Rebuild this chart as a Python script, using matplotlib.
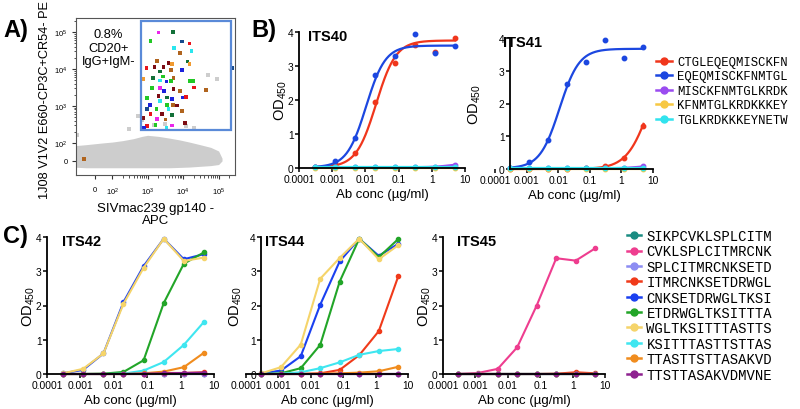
import matplotlib
matplotlib.use("Agg")
import matplotlib.pyplot as plt
import numpy as np
from matplotlib.patches import Rectangle
from matplotlib.lines import Line2D
from matplotlib.ticker import SymmetricalLogLocator, NullFormatter

plt.rcParams['font.family'] = ['Liberation Sans', 'DejaVu Sans']
plt.rcParams['mathtext.default'] = 'regular'

W, H = 800, 410

# --------------------------------------------------------------------------- #
# Data
# --------------------------------------------------------------------------- #
conc = [0.0003, 0.0012, 0.0049, 0.0195, 0.078, 0.3125, 1.25, 5.0]

# panel A : gated cells (log10 of the fluorescence values) and their colours
a_logx = [3.31, 3.71, 3.08, 3.96, 4.18, 3.75, 3.92, 4.24, 3.27, 3.59, 3.69, 4.12,
          4.18, 2.97, 3.19, 3.45, 3.66, 3.96, 3.34, 3.44, 3.73, 2.88, 3.16, 3.34,
          3.53, 3.66, 4.19, 4.27, 3.13, 3.34, 3.47, 3.73, 3.92, 4.31, 4.64, 2.99,
          3.31, 3.55, 3.69, 3.99, 4.08, 3.06, 3.34, 3.55, 3.71, 3.82, 2.99, 3.25,
          3.59, 3.96, 3.08, 3.41, 3.69, 3.27, 3.50, 2.88, 4.06, 3.69, 2.99, 2.90,
          3.53, 3.22, 5.37]
a_logy = [4.99, 5.01, 4.75, 4.74, 4.69, 4.56, 4.43, 4.48, 4.21, 4.16, 4.14, 4.20,
          4.14, 4.02, 4.05, 4.05, 3.98, 3.98, 3.93, 3.80, 3.75, 3.73, 3.75, 3.69,
          3.66, 3.68, 3.68, 3.67, 3.48, 3.48, 3.41, 3.46, 3.41, 3.50, 3.44, 3.21,
          3.26, 3.23, 3.19, 3.23, 3.25, 3.03, 3.14, 3.03, 3.03, 3.01, 2.92, 2.92,
          2.92, 2.87, 2.78, 2.78, 2.76, 2.65, 2.63, 2.67, 2.54, 2.47, 2.45, 2.42,
          2.42, 2.49, 4.02]
a_cell = ['m', 'd', 'g', 'k', 'r', 'c', 'n', 'c', 'n', 'w', 'o', 'd',
          'o', 'r', 'w', 'w', 'n', 'b', 'd', 'g', 'n', 'o', 'd', 'c',
          'b', 'g', 'g', 'g', 'g', 'm', 'b', 'w', 'n', 'r', 'n', 'g',
          'w', 'd', 'b', 'b', 'r', 'b', 'c', 'g', 'n', 'w', 'k', 'g',
          'c', 'n', 'r', 'w', 'd', 'm', 'n', 'w', 'w', 'm', 'r', 'b',
          'c', 'g', 'k']
a_palette = {'r': '#e8141c', 'g': '#22c825', 'b': '#1c22dc', 'm': '#ea26ea',
             'c': '#2ae6ee', 'o': '#f09a30', 'n': '#b0641e', 'd': '#127038',
             'k': '#174a8c', 'w': '#7c0c14'}

# panel A : bulk (ungated) population outline and stray events
cloud_x = [-110, -50, 0, 50, 100, 200, 400, 700, 1000, 2000, 4000, 8000,
           15000, 30000, 60000, 100000, 125000]
cloud_top = [85, 90, 95, 100, 105, 115, 130, 150, 160, 150, 135, 120,
             105, 90, 75, 55, 15]
cloud_bot = [-35, -38, -38, -38, -38, -38, -38, -38, -38, -38, -38, -36,
             -34, -30, -26, -20, 0]
stray_x = [550, 51000, 90000, 1500, 300, 20000, 700, 3000, -100, 12000]
stray_y = [540, 6900, 5500, 300, 230, 260, 420, 330, 160, 280]
odd_x, odd_y = [-60], [10]
gate = [660, 225, 2.2e5, 2.0e5]  # x0, y0, x1, y1

# panel B : ELISA, peptides and their colours
b_peptides = ['CTGLEQEQMISCKFN', 'EQEQMISCKFNMTGL', 'MISCKFNMTGLKRDK',
              'KFNMTGLKRDKKKEY', 'TGLKRDKKKEYNETW']
b_colors = ['#f0361c', '#1c47e0', '#9a4cf0', '#f7c843', '#31e3ee']

its40 = [[0.02, 0.12, 0.43, 1.93, 3.10, 3.62, 3.42, 3.82],
         [0.03, 0.22, 0.87, 2.75, 3.28, 3.93, 3.38, 3.58],
         [0.02, 0.02, 0.02, 0.02, 0.02, 0.03, 0.04, 0.10],
         [0.01, 0.01, 0.01, 0.01, 0.01, 0.01, 0.01, 0.01],
         [0.02, 0.02, 0.02, 0.02, 0.02, 0.02, 0.02, 0.02]]
its41 = [[0.00, 0.00, 0.01, 0.01, 0.02, 0.08, 0.35, 1.32],
         [0.03, 0.20, 0.90, 2.60, 3.28, 3.93, 3.40, 3.73],
         [0.02, 0.02, 0.02, 0.02, 0.02, 0.03, 0.04, 0.08],
         [0.01, 0.01, 0.01, 0.01, 0.01, 0.01, 0.01, 0.01],
         [0.02, 0.02, 0.02, 0.02, 0.02, 0.02, 0.02, 0.02]]

# 4-parameter logistic fits: bottom, top, EC50, hill
fit40_bottom = [0.02, 0.02, 0.02, 0.01, 0.02]
fit40_top = [3.75, 3.60, 0.15, 0.01, 0.02]
fit40_ec50 = [0.021, 0.0105, 4.0, 1.0, 1.0]
fit40_hill = [1.45, 1.5, 1.5, 1.0, 1.0]
fit41_bottom = [0.0, 0.02, 0.02, 0.01, 0.02]
fit41_top = [3.8, 3.67, 0.12, 0.01, 0.02]
fit41_ec50 = [8.0, 0.011, 4.0, 1.0, 1.0]
fit41_hill = [1.2, 1.4, 1.5, 1.0, 1.0]

# panel C : ELISA, peptides and their colours
c_peptides = ['SIKPCVKLSPLCITM', 'CVKLSPLCITMRCNK', 'SPLCITMRCNKSETD',
              'ITMRCNKSETDRWGL', 'CNKSETDRWGLTKSI', 'ETDRWGLTKSITTTA',
              'WGLTKSITTTASTTS', 'KSITTTASTTSTTAS', 'TTASTTSTTASAKVD',
              'TTSTTASAKVDMVNE']
c_colors = ['#1a8c82', '#ee3d8f', '#8c8cf2', '#f03a1a', '#1a40f0',
            '#22a528', '#f5d46a', '#3fe6f0', '#f08c1e', '#8e2290']

zero = [0, 0, 0, 0, 0, 0, 0, 0]
its42 = [zero, zero, zero,
         [0, 0, 0, 0, 0.0, 0.03, 0.03, 0.05],
         [0.02, 0.12, 0.60, 2.10, 3.15, 3.95, 3.35, 3.50],
         [0.0, 0.0, 0.01, 0.06, 0.40, 2.07, 3.22, 3.55],
         [0.02, 0.15, 0.60, 2.05, 3.10, 3.95, 3.30, 3.40],
         [0, 0, 0, 0.01, 0.10, 0.35, 0.85, 1.52],
         [0, 0, 0, 0, 0.02, 0.07, 0.20, 0.62],
         [0, 0, 0, 0, 0.01, 0.02, 0.03, 0.04]]
its44 = [zero, zero, zero,
         [0, 0, 0, 0.02, 0.12, 0.55, 1.25, 2.85],
         [0.02, 0.10, 0.52, 2.02, 3.29, 3.95, 3.45, 3.80],
         [0.0, 0.02, 0.17, 0.85, 2.70, 3.95, 3.41, 3.94],
         [0.02, 0.20, 0.86, 2.78, 3.39, 3.95, 3.35, 3.76],
         [0, 0.01, 0.05, 0.17, 0.34, 0.56, 0.67, 0.73],
         [0, 0, 0, 0.01, 0.02, 0.04, 0.08, 0.21],
         [0.01, 0.01, 0.01, 0.01, 0.01, 0.01, 0.01, 0.01]]
its45 = [zero,
         [0.0, 0.03, 0.15, 0.78, 2.00, 3.38, 3.31, 3.67],
         zero,
         [0, 0, 0, 0, 0, 0.01, 0.05, 0.02],
         [0.01, 0.01, 0.01, 0.01, 0.01, 0.01, 0.01, 0.01],
         zero, zero, zero, zero, zero]


# --------------------------------------------------------------------------- #
def box(l, t, r, b):
    return [l / W, 1 - b / H, (r - l) / W, (b - t) / H]


def four_pl(x, bottom, top, ec50, hill):
    return bottom + (top - bottom) / (1 + (ec50 / x) ** hill)


def elisa_axes(ax, title, title_dx, label_dx, spine_at=None, trim_bottom=False):
    ax.set_xscale('log')
    ax.set_xlim(0.0001, 10)
    ax.set_ylim(0, 4)
    ax.set_xticks([0.0001, 0.001, 0.01, 0.1, 1, 10])
    ax.set_xticklabels(['0.0001', '0.001', '0.01', '0.1', '1', '10'])
    ax.xaxis.set_minor_locator(plt.NullLocator())
    ax.set_yticks([0, 1, 2, 3, 4])
    for s in ('top', 'right'):
        ax.spines[s].set_visible(False)
    for s in ('left', 'bottom'):
        ax.spines[s].set_linewidth(1.3)
    if spine_at is not None:
        ax.spines['left'].set_position(('data', spine_at))
        if trim_bottom:
            ax.spines['bottom'].set_bounds(spine_at, 10)
    ax.tick_params(length=3, width=1.1, labelsize=7.4, pad=1)
    ax.set_xlabel('Ab conc (µg/ml)', fontsize=9.5, labelpad=3)
    ax.set_ylabel('OD$_{450}$', fontsize=10.5)
    bb = ax.get_position()
    ax.yaxis.set_label_coords(label_dx / (bb.width * W), 0.5)
    ax.text(bb.x0 + title_dx / W, bb.y1 - 4 / H, title, transform=fig.transFigure,
            fontsize=10.5, fontweight='bold', va='center', ha='left', zorder=6)
    ax.patch.set_alpha(0)


fig = plt.figure(figsize=(W / 100, H / 100), dpi=100)

# --------------------------------------------------------------------------- #
# A) flow cytometry
# --------------------------------------------------------------------------- #
axA = fig.add_axes(box(76, 19, 235, 176))
axA.set_xscale('symlog', linthresh=100, linscale=0.44)
axA.set_yscale('symlog', linthresh=100, linscale=0.44)
axA.set_xlim(-110, 2.9e5)
axA.set_ylim(-78, 2.4e5)
axA.fill_between(cloud_x, cloud_bot, cloud_top, color='#cdcdcd', lw=0)
axA.scatter(stray_x, stray_y, s=5, marker='s', color='#cdcdcd', lw=0)
axA.scatter(odd_x, odd_y, s=7, marker='s', color='#b0641e', lw=0)
axA.scatter(10 ** np.array(a_logx), 10 ** np.array(a_logy), s=7, marker='s',
            c=[a_palette[k] for k in a_cell], lw=0, zorder=3)
axA.add_patch(Rectangle((gate[0], gate[1]), gate[2] - gate[0], gate[3] - gate[1],
                        fill=False, ec='#5a8ad8', lw=1.6, zorder=4))
decades = ['0', '10$^2$', '10$^3$', '10$^4$', '10$^5$']
axA.set_xticks([0, 1e2, 1e3, 1e4, 1e5])
axA.set_xticklabels(decades)
axA.set_yticks([0, 1e2, 1e3, 1e4, 1e5])
axA.set_yticklabels(decades)
for axis in (axA.xaxis, axA.yaxis):
    axis.set_minor_locator(SymmetricalLogLocator(base=10, linthresh=100,
                                                 subs=np.arange(2, 10)))
    axis.set_minor_formatter(NullFormatter())
axA.tick_params(labelsize=5.5, length=3, width=0.8, color='#333333')
axA.tick_params(axis='x', pad=5)
axA.tick_params(axis='y', pad=3)
axA.tick_params(which='minor', length=1.8, width=0.6, color='#333333')
for s in axA.spines.values():
    s.set_linewidth(0.8)
    s.set_color('#555555')
axA.text(0.205, 0.935, '0.8%\nCD20+\nIgG+IgM-', transform=axA.transAxes,
         ha='center', va='top', fontsize=9.3, linespacing=1.15)
axA.set_xlabel('SIVmac239 gp140 -\nAPC', fontsize=9.5, labelpad=3,
               linespacing=1.1)
fig.text(45 / W, 1 - 100 / H, '1J08 V1V2 E660-CP3C+CR54- PE', rotation=90,
         ha='center', va='center', fontsize=9.2)

# --------------------------------------------------------------------------- #
# B) ITS40 / ITS41
# --------------------------------------------------------------------------- #
ax40 = fig.add_axes(box(299, 33, 465, 169))
ax41 = fig.add_axes(box(495, 39, 653, 170))
xs = np.logspace(np.log10(conc[0]), np.log10(conc[-1]), 200)
handles = []
for i in range(len(b_peptides)):
    col = b_colors[i]
    ax40.plot(xs, four_pl(xs, fit40_bottom[i], fit40_top[i], fit40_ec50[i],
                          fit40_hill[i]), color=col, lw=1.6, clip_on=False)
    ax40.plot(conc, its40[i], 'o', color=col, ms=3.2, clip_on=False)
    ax41.plot(xs, four_pl(xs, fit41_bottom[i], fit41_top[i], fit41_ec50[i],
                          fit41_hill[i]), color=col, lw=1.6, clip_on=False)
    ax41.plot(conc, its41[i], 'o', color=col, ms=3.2, clip_on=False)
    handles.append(Line2D([], [], color=col, lw=1.8, marker='o', ms=5))
elisa_axes(ax40, 'ITS40', 9, -10)
elisa_axes(ax41, 'ITS41', 8, -12, spine_at=0.0003, trim_bottom=True)
fig.legend(handles, b_peptides, loc='upper left',
           bbox_to_anchor=(656 / W, 1 - 57 / H), frameon=False,
           prop={'family': 'Liberation Mono', 'size': 8.8},
           handlelength=1.3, handletextpad=0.45, labelspacing=0.2,
           borderpad=0, borderaxespad=0)

# --------------------------------------------------------------------------- #
# C) ITS42 / ITS44 / ITS45
# --------------------------------------------------------------------------- #
ax42 = fig.add_axes(box(47, 238, 214, 375))
ax44 = fig.add_axes(box(246, 238, 408, 375))
ax45 = fig.add_axes(box(443, 238, 605, 375))
handles = []
for i in range(len(c_peptides)):
    col = c_colors[i]
    for ax, data in ((ax42, its42), (ax44, its44), (ax45, its45)):
        ax.plot(conc, data[i], '-o', color=col, lw=1.5, ms=3, clip_on=False)
    handles.append(Line2D([], [], color=col, lw=1.8, marker='o', ms=5))
elisa_axes(ax42, 'ITS42', 15, -10)
elisa_axes(ax44, 'ITS44', 19, -2, spine_at=0.0003)
elisa_axes(ax45, 'ITS45', 14, -10)
fig.legend(handles, c_peptides, loc='upper left',
           bbox_to_anchor=(627 / W, 1 - 230 / H), frameon=False,
           prop={'family': 'Liberation Mono', 'size': 10},
           handlelength=1.0, handletextpad=0.4, labelspacing=0.1,
           borderpad=0, borderaxespad=0)

# panel letters
for txt, x, y in (('A)', 3, 30), ('B)', 251, 30), ('C)', 3, 237)):
    fig.text(x / W, 1 - y / H, txt, fontsize=17, fontweight='bold',
             ha='left', va='center')

fig.savefig('out.png', dpi=100)
